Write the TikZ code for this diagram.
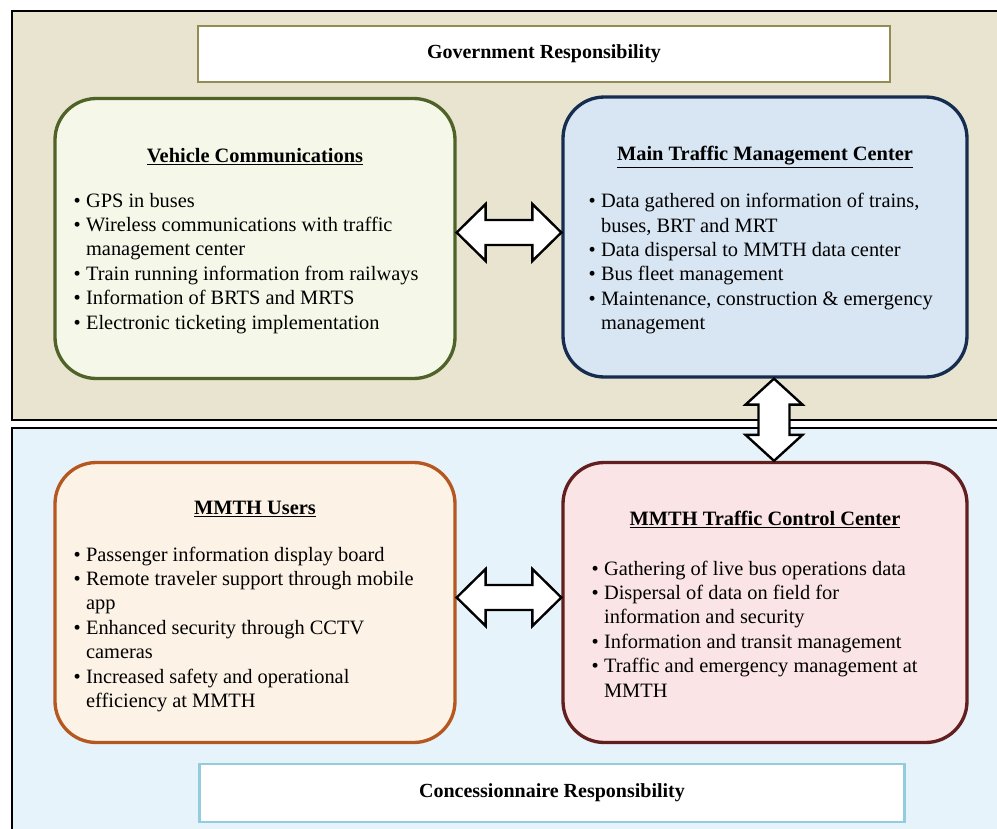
\documentclass[tikz,border=0pt]{standalone}
\usepackage{fontspec}
\setmainfont{Liberation Serif}
\usetikzlibrary{positioning,calc}

\definecolor{govbg}{RGB}{232,228,208}
\definecolor{conbg}{RGB}{230,243,251}
\definecolor{govline}{RGB}{148,138,84}
\definecolor{conline}{RGB}{147,205,221}
\definecolor{vehline}{RGB}{79,98,40}
\definecolor{vehfill}{RGB}{245,248,232}
\definecolor{mtcline}{RGB}{23,45,80}
\definecolor{mtcfill}{RGB}{216,229,243}
\definecolor{usrline}{RGB}{182,87,32}
\definecolor{usrfill}{RGB}{253,242,230}
\definecolor{tccline}{RGB}{99,30,30}
\definecolor{tccfill}{RGB}{250,228,230}

\begin{document}
\begin{tikzpicture}[
  x=0.75pt, y=-0.75pt,
  panel/.style={draw=black, line width=1.5pt},
  resp/.style={draw, line width=2.2pt, fill=white, inner sep=0pt, font=\fontsize{15}{18}\selectfont\bfseries},
  card/.style={draw, line width=2.5pt, rounded corners=31pt, minimum width=300pt, minimum height=210pt},
  ttl/.style={inner sep=0pt, font=\fontsize{15.3}{18.3}\selectfont\bfseries},
  lst/.style={anchor=north west, inner sep=0pt, align=left, font=\fontsize{15.3}{18.3}\selectfont},
  blk/.style={draw=black, fill=white, line width=1.8pt, line join=miter}
]
\useasboundingbox (0,0) rectangle (997,829);

% two responsibility areas
\draw[panel, fill=govbg] (12,11) rectangle (1012,420);
\draw[panel, fill=conbg] (12,428) rectangle (1012,845);

\node[resp, draw=govline, minimum width=519pt, minimum height=42pt] (gov) at (544,54) {Government Responsibility};
\node[resp, draw=conline, minimum width=529pt, minimum height=43.5pt] (con) at (552,793) {Concessionnaire Responsibility};

% four centres
\node[card, draw=vehline, fill=vehfill] (veh) at (255,238.5) {};
\node[card, draw=mtcline, fill=mtcfill, minimum width=303pt] (mtc) at (765,237) {};
\node[card, draw=usrline, fill=usrfill] (usr) at (255,602.5) {};
\node[card, draw=tccline, fill=tccfill, minimum width=303pt] (tcc) at (765,602.5) {};

\node[ttl] (vehT) at ($(veh.north)+(0,60)$) {\underline{Vehicle Communications}};
\node[lst] (vehL) at ($(veh.north west)+(20,93)$) {%
  \begin{tabular}{@{}l@{\hspace{4pt}}l@{}}
  \textbullet & GPS in buses\\
  \textbullet & Wireless communications with traffic\\
   & management center\\
  \textbullet & Train running information from railways\\
  \textbullet & Information of BRTS and MRTS\\
  \textbullet & Electronic ticketing implementation
  \end{tabular}};

\node[ttl] (mtcT) at ($(mtc.north)+(0,62)$) {\underline{Main Traffic Management Center}};
\node[lst] (mtcL) at ($(mtc.north west)+(27,95)$) {%
  \begin{tabular}{@{}l@{\hspace{4pt}}l@{}}
  \textbullet & Data gathered on information of trains,\\
   & buses, BRT and MRT\\
  \textbullet & Data dispersal to MMTH data center\\
  \textbullet & Bus fleet management\\
  \textbullet & Maintenance, construction \& emergency\\
   & management
  \end{tabular}};

\node[ttl] (usrT) at ($(usr.north)+(0,48)$) {\underline{MMTH Users}};
\node[lst] (usrL) at ($(usr.north west)+(20,83)$) {%
  \begin{tabular}{@{}l@{\hspace{4pt}}l@{}}
  \textbullet & Passenger information display board\\
  \textbullet & Remote traveler support through mobile\\
   & app\\
  \textbullet & Enhanced security through CCTV\\
   & cameras\\
  \textbullet & Increased safety and operational\\
   & efficiency at MMTH
  \end{tabular}};

\node[ttl] (tccT) at ($(tcc.north)+(0,59)$) {\underline{MMTH Traffic Control Center}};
\node[lst] (tccL) at ($(tcc.north west)+(30,97)$) {%
  \begin{tabular}{@{}l@{\hspace{4pt}}l@{}}
  \textbullet & Gathering of live bus operations data\\
  \textbullet & Dispersal of data on field for\\
   & information and security\\
  \textbullet & Information and transit management\\
  \textbullet & Traffic and emergency management at\\
   & MMTH
  \end{tabular}};

% block arrows between centres
\coordinate (a1) at ($(veh.east)+(0,-6)$);
\coordinate (b1) at (a1 -| mtc.west);
\draw[blk] (a1) -- ++(29,-28.5) -- ++(0,16) -- ($(b1)+(-29,-12.5)$) -- ++(0,-16) -- (b1)
  -- ++(-29,28.5) -- ++(0,-16) -- ($(a1)+(29,12.5)$) -- ++(0,16) -- cycle;

\coordinate (a2) at ($(usr.east)+(0,-5)$);
\coordinate (b2) at (a2 -| tcc.west);
\draw[blk] (a2) -- ++(29,-28.5) -- ++(0,16) -- ($(b2)+(-29,-12.5)$) -- ++(0,-16) -- (b2)
  -- ++(-29,28.5) -- ++(0,-16) -- ($(a2)+(29,12.5)$) -- ++(0,16) -- cycle;

\coordinate (a3) at ($(mtc.south)+(9,0)$);
\coordinate (b3) at (a3 |- tcc.north);
\draw[blk] (a3) -- ++(28.5,26) -- ++(-13,0) -- ($(b3)+(15.5,-26)$) -- ++(13,0) -- (b3)
  -- ++(-28.5,-26) -- ++(13,0) -- ($(a3)+(-15.5,26)$) -- ++(-13,0) -- cycle;
\end{tikzpicture}
\end{document}
